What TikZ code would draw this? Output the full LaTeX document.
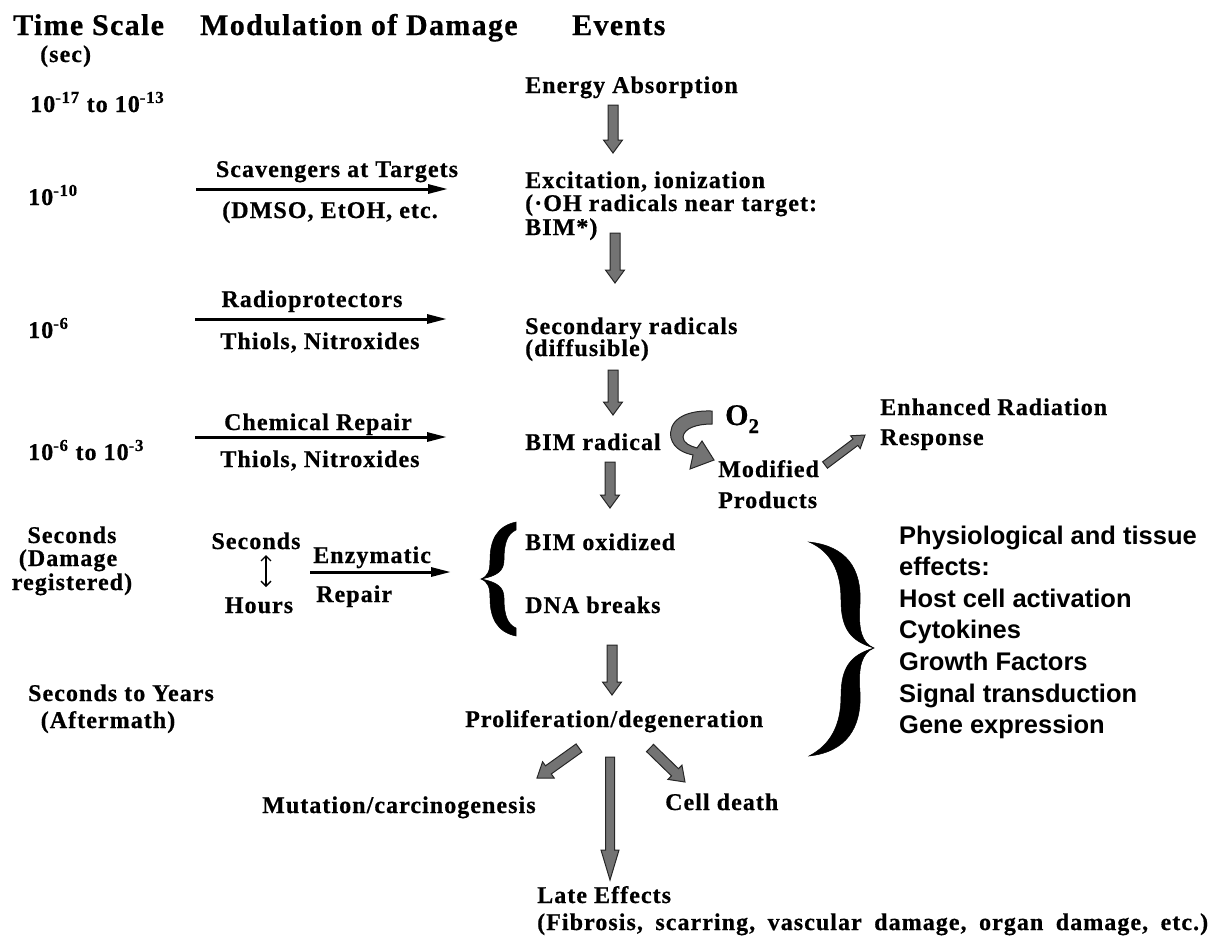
\documentclass[tikz,border=0pt]{standalone}
\usepackage{fontspec}
\usetikzlibrary{calc,arrows.meta}
\newfontfamily\tnr{Liberation Serif}[LetterSpace=4.4, BoldFeatures={FakeBold=0.6}]
\newfontfamily\tnrp{Liberation Serif}[BoldFeatures={FakeBold=0.6}]
\newfontfamily\arl{Liberation Sans}
\definecolor{arrowgray}{gray}{0.45}
\definecolor{edgegray}{gray}{0.15}

% block arrow: #1 start, #2 tip, #3 shaft half width, #4 head half width, #5 head length
\newcommand\blockarrow[5]{%
  \filldraw[barrow] let \p1=(#1), \p2=(#2), \n1={atan2(\y2-\y1,\x2-\x1)} in
   ($(\p1)+(\n1-90:#3pt)$)
   -- ($(\p2)+(\n1+180:#5pt)+(\n1-90:#3pt)$)
   -- ($(\p2)+(\n1+180:#5pt)+(\n1-90:#4pt)$)
   -- (\p2)
   -- ($(\p2)+(\n1+180:#5pt)+(\n1+90:#4pt)$)
   -- ($(\p2)+(\n1+180:#5pt)+(\n1+90:#3pt)$)
   -- ($(\p1)+(\n1+90:#3pt)$) -- cycle;}

\begin{document}
\begin{tikzpicture}[x=1pt,y=-1pt,
  every node/.style={inner sep=0pt, anchor=base west},
  tx/.style={font=\tnr\bfseries\fontsize{24}{26}\selectfont},
  hd/.style={font=\tnr\bfseries\fontsize{30}{32}\selectfont},
  sn/.style={font=\arl\bfseries\fontsize{25.5}{30}\selectfont},
  thinarrow/.style={line width=3pt, -{Triangle[length=20pt,width=9pt]}},
  barrow/.style={draw=edgegray, fill=arrowgray, line width=1pt, line join=miter},
  brace/.style={fill=black, draw=black, line width=0.5pt},
  ]
\useasboundingbox (0,0) rectangle (1223,946);

% ---- headers
\node[hd] (hts) at (13,35) {Time Scale};
\node[tx] (hsec) at (40,62) {(sec)};
\node[hd] (hmod) at (200,35) {Modulation of Damage};
\node[hd] (hev) at (572,35) {Events};

% ---- time scale column
\node[tx] (t1) at (30,112) {10\textsuperscript{-17} to 10\textsuperscript{-13}};
\node[tx] (t2) at (28,205) {10\textsuperscript{-10}};
\node[tx] (t3) at (28,338) {10\textsuperscript{-6}};
\node[tx] (t4) at (28,460) {10\textsuperscript{-6} to 10\textsuperscript{-3}};
\node[tx,anchor=base] (sd1) at (72,543) {Seconds};
\node[tx,anchor=base] (sd2) at (68,566) {(Damage};
\node[tx,anchor=base] (sd3) at (72,590) {registered)};
\node[tx,anchor=base] (sy1) at (121,701) {Seconds to Years};
\node[tx,anchor=base] (sy2) at (108,728) {(Aftermath)};

% ---- modulation column
\node[tx,anchor=base] (sca) at (337,177) {Scavengers at Targets};
\coordinate (sca0) at (196,189); \coordinate (sca1) at (448,189);
\draw[thinarrow] (sca0) -- (sca1);
\node[tx,anchor=base] (dmso) at (330,218) {(DMSO, EtOH, etc.};

\node[tx,anchor=base] (rad) at (312,307) {Radioprotectors};
\coordinate (rad0) at (195,319); \coordinate (rad1) at (447,319);
\draw[thinarrow] (rad0) -- (rad1);
\node[tx,anchor=base] (thi1) at (320,349) {Thiols, Nitroxides};

\node[tx,anchor=base] (chr) at (318,430) {Chemical Repair};
\coordinate (chr0) at (195,437); \coordinate (chr1) at (447,437);
\draw[thinarrow] (chr0) -- (chr1);
\node[tx,anchor=base] (thi2) at (320,467) {Thiols, Nitroxides};

\node[tx,anchor=base] (sech) at (256,549) {Seconds};
\node[tx,anchor=base] (hrs) at (259,613) {Hours};
\coordinate (ud0) at (266,555); \coordinate (ud1) at (266,587);
\draw[line width=1.3pt, {Straight Barb[length=5pt,width=10pt]}-{Straight Barb[length=5pt,width=10pt]}] (ud0) -- (ud1);
\node[tx] (enz) at (313,563) {Enzymatic};
\coordinate (enz0) at (310,572); \coordinate (enz1) at (451,572);
\draw[thinarrow] (enz0) -- (enz1);
\node[tx] (rep) at (316,602) {Repair};

% ---- events column
\node[tx] (ea) at (525,93) {Energy Absorption};
\node[tx] (ex1) at (525,188) {Excitation, ionization};
\node[tx] (ex2) at (525,211) {(·OH radicals near target:};
\node[tx] (ex3) at (525,235) {BIM*)};
\node[tx] (sr1) at (525,334) {Secondary radicals};
\node[tx] (sr2) at (525,356) {(diffusible)};
\node[tx] (bim) at (525,450) {BIM radical};
\node[font=\tnrp\bfseries\fontsize{30}{30}\selectfont] (o2) at (725,425) {O\raisebox{-8pt}{\fontsize{21}{21}\selectfont 2}};
\node[tx] (mp1) at (718,477) {Modified};
\node[tx] (mp2) at (718,508) {Products};
\node[tx] (er1) at (880,415) {Enhanced Radiation};
\node[tx] (er2) at (880,445) {Response};
\node[tx] (bo) at (525,550) {BIM oxidized};
\node[tx] (dna) at (525,613) {DNA breaks};
\node[tx] (pd) at (465,727) {Proliferation/degeneration};
\node[tx] (mut) at (262,813) {Mutation/carcinogenesis};
\node[tx] (cd) at (665,810) {Cell death};
\node[tx] (le1) at (537,903) {Late Effects};
\node[tx] (le2) at (537,930) {\spaceskip=12.5pt\relax(Fibrosis, scarring, vascular damage, organ damage, etc.)};

% ---- braces
\coordinate (lbtip) at (481,579);
\filldraw[brace] (516,522) .. controls (497,526) and (490,540) .. (490,560)
  .. controls (490,571) and (488,576) .. (lbtip)
  .. controls (488,582) and (490,587) .. (490,598)
  .. controls (490,618) and (497,632) .. (516,636)
  -- (516,628)
  .. controls (507,624) and (504,614) .. (504,598)
  .. controls (504,587) and (497,582) .. (lbtip)
  .. controls (497,576) and (504,571) .. (504,560)
  .. controls (504,544) and (507,534) .. (516,530) -- cycle;

\coordinate (rbtip) at (874,648);
\filldraw[brace] (809,542) .. controls (846,546) and (862,568) .. (860,604)
  .. controls (858,630) and (862,643) .. (rbtip)
  .. controls (862,653) and (858,666) .. (860,692)
  .. controls (862,728) and (846,752) .. (809,756)
  .. controls (830,745) and (841,726) .. (841,696)
  .. controls (841,668) and (850,655) .. (rbtip)
  .. controls (850,641) and (841,628) .. (841,600)
  .. controls (841,570) and (830,551) .. (809,542) -- cycle;

% ---- physiological effects
\node[sn] (ph1) at (899,544) {Physiological and tissue};
\node[sn] (ph2) at (899,575) {effects:};
\node[sn] (ph3) at (899,607) {Host cell activation};
\node[sn] (ph4) at (899,638) {Cytokines};
\node[sn] (ph5) at (899,670) {Growth Factors};
\node[sn] (ph6) at (899,702) {Signal transduction};
\node[sn] (ph7) at (899,733) {Gene expression};

% ---- block arrows
\coordinate (a1s) at (613,105); \coordinate (a1e) at (613,153);
\coordinate (a2s) at (615,233); \coordinate (a2e) at (615,283);
\coordinate (a3s) at (613,370); \coordinate (a3e) at (613,415);
\coordinate (a4s) at (610,462); \coordinate (a4e) at (610,508);
\coordinate (a5s) at (612,645); \coordinate (a5e) at (612,695);
\coordinate (ers) at (825,465); \coordinate (ere) at (865,435);
\coordinate (dls) at (579,748); \coordinate (dle) at (537,778);
\coordinate (drs) at (650,748); \coordinate (dre) at (685,782);
\coordinate (lgs) at (610,757); \coordinate (lge) at (610,880);
\blockarrow{a1s}{a1e}{5}{9.5}{13}
\blockarrow{a2s}{a2e}{5}{9.5}{13}
\blockarrow{a3s}{a3e}{5}{9.5}{13}
\blockarrow{a4s}{a4e}{5}{9.5}{13}
\blockarrow{a5s}{a5e}{5}{9.5}{13}
\blockarrow{ers}{ere}{4}{8}{12}
\blockarrow{dls}{dle}{5}{10}{14}
\blockarrow{drs}{dre}{5}{10}{14}
\blockarrow{lgs}{lge}{4.5}{9}{30}

% ---- curved O2 arrow
\filldraw[barrow] (712,411) .. controls (682,410) and (668,422) .. (671,438)
  .. controls (674,449) and (684,453) .. (693,455)
  -- (690,469) -- (714,460) -- (702,441) -- (697,448)
  .. controls (690,446) and (683,443) .. (683,437)
  .. controls (684,428) and (697,424) .. (712,424) -- cycle;
\end{tikzpicture}
\end{document}
